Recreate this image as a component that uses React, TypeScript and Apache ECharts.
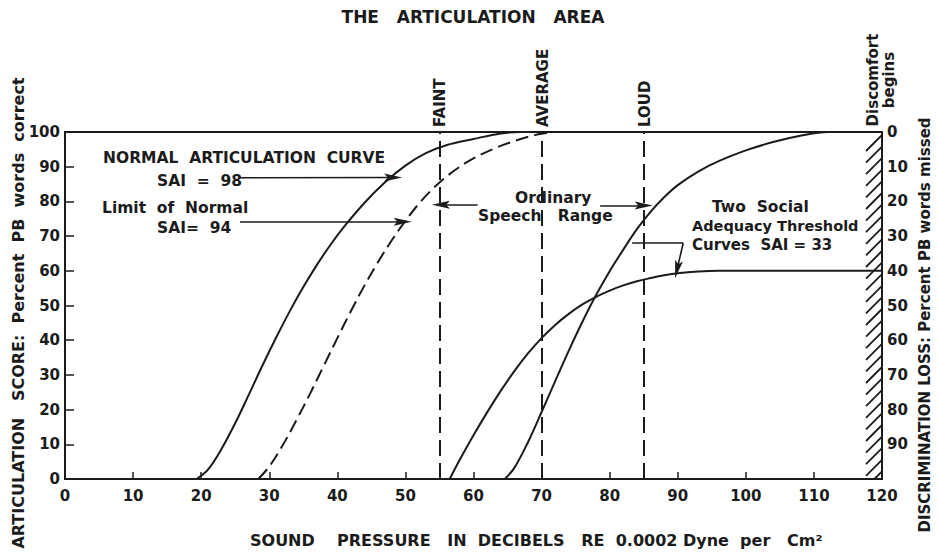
import React, { useEffect, useRef } from "react";
import * as echarts from "echarts";

// ---------- text ----------
const TITLE = "THE   ARTICULATION   AREA";
const X_NAME = "SOUND    PRESSURE   IN  DECIBELS   RE  0.0002 Dyne  per   Cm²";
const LEFT_NAME = "ARTICULATION   SCORE:  Percent  PB  words  correct";
const RIGHT_NAME = "DISCRIMINATION LOSS: Percent PB words missed";
const DISCOMFORT = "Discomfort\nbegins";

// ---------- data (sound pressure dB, articulation score %) ----------
const NORMAL_DB = [19.3, 21, 23, 25, 27, 29, 31, 33, 35, 37, 39, 41, 44, 47, 50, 53, 56, 60, 64, 67, 120];
const NORMAL_SCORE = [0, 2.7, 8.7, 16.1, 24.3, 32.7, 40.7, 48.3, 55.3, 61.7, 67.5, 72.7, 79.6, 85.5, 90.3, 93.9, 96.2, 98, 99.6, 100, 100];

const LIMIT_DB = [28.4, 30, 32, 34, 36, 38, 40, 42, 44, 46, 48, 50, 52, 54, 56, 58, 60, 63, 66, 69, 71.5];
const LIMIT_SCORE = [0, 3.6, 9.8, 17, 24.6, 32.6, 40.6, 48.4, 55.8, 62.6, 68.8, 74.4, 79.4, 83.6, 87.1, 90, 92.4, 95.2, 97.4, 99.1, 100];

const STEEP_DB = [64.6, 66, 68, 70, 72, 74, 76, 78, 80, 82, 84, 86, 88, 90, 93, 96, 100, 104, 108, 112, 120];
const STEEP_SCORE = [0, 3.2, 10.6, 19.3, 28.2, 37, 45.3, 53, 59.9, 66.1, 72, 77, 81.2, 84.7, 88.6, 91.6, 94.7, 97.1, 98.9, 100, 100];

const FLAT_DB = [56.5, 58, 60, 62, 64, 66, 68, 70, 72, 74, 76, 78, 80, 82, 84, 86, 88, 90, 93, 96, 120];
const FLAT_SCORE = [0, 5.6, 12.6, 19.2, 25.4, 31.1, 36.2, 40.6, 44.4, 47.6, 50.3, 52.5, 54.3, 55.8, 57, 57.9, 58.7, 59.3, 59.8, 60, 60];

const LEVEL_DB = [55, 70, 85];
const LEVEL_NAMES = ["FAINT", "AVERAGE", "LOUD"];

// annotation arrows in data coords: [fromDb, fromScore, toDb, toScore]
const ARROW_SAI98 = [25.7, 86.8, 48.2, 86.9];
const ARROW_SAI94 = [25.7, 74.1, 49.6, 74.1];
const ARROW_RANGE_LEFT = [60.6, 79.0, 55.2, 79.0];
const ARROW_RANGE_RIGHT = [78.6, 78.8, 85.0, 78.8];
const LEADER_H = [83.3, 68.0, 90.8, 68.0];
const LEADER_ARROW = [90.8, 68.0, 89.9, 60.4];

const FONT = '"DejaVu Sans", "Liberation Sans", sans-serif';
const INK = "#1b1b1b";

const zip = (a: number[], b: number[]) => a.map((v, i) => [v, b[i]]);

const ARROW_PATH = "path://M5,0L10,20L5,16L0,20Z";

function arrowItem(a: number[], withHead = true) {
  return [
    { coord: [a[0], a[1]], symbol: "none" },
    withHead
      ? { coord: [a[2], a[3]], symbol: ARROW_PATH, symbolSize: [8, 18] }
      : { coord: [a[2], a[3]], symbol: "none" },
  ];
}

const markBase = {
  silent: true,
  animation: false,
  label: { show: false },
  emphasis: { disabled: true },
  lineStyle: { color: INK, width: 1.6, type: "solid" },
};

const SMOOTH = 0.35;

export default function App() {
  const ref = useRef<HTMLDivElement>(null);

  useEffect(() => {
    if (!ref.current) return;
    const chart = echarts.init(ref.current, undefined, { renderer: "svg" });

    const textStyle = (size = 15) => ({
      font: `bold ${size}px ${FONT}`,
      fill: INK,
    });

    const curve = (name: string, db: number[], sc: number[], extra: any = {}) => ({
      name,
      type: "line",
      data: zip(db, sc),
      showSymbol: false,
      symbol: "none",
      smooth: SMOOTH,
      lineStyle: { color: INK, width: 2 },
      silent: true,
      ...extra,
    });

    const option: any = {
      animation: false,
      backgroundColor: "#ffffff",
      grid: {
        left: 65,
        right: 57,
        top: 132,
        bottom: 75,
        show: true,
        borderColor: INK,
        borderWidth: 2,
        backgroundColor: "transparent",
      },
      xAxis: {
        type: "value",
        min: 0,
        max: 120,
        interval: 10,
        axisLine: { lineStyle: { color: INK, width: 2 } },
        axisTick: { inside: true, length: 7, lineStyle: { color: INK, width: 1.5 } },
        axisLabel: { margin: 9, color: INK, fontFamily: FONT, fontWeight: "bold", fontSize: 15 },
        splitLine: { show: false },
      },
      yAxis: [
        {
          type: "value",
          min: 0,
          max: 100,
          interval: 10,
          axisLine: { show: true, lineStyle: { color: INK, width: 2 } },
          axisTick: { show: true, inside: true, length: 9, lineStyle: { color: INK, width: 1.5 } },
          axisLabel: { margin: 5, color: INK, fontFamily: FONT, fontWeight: "bold", fontSize: 15 },
          splitLine: { show: false },
        },
        {
          type: "value",
          position: "right",
          min: 0,
          max: 100,
          interval: 10,
          inverse: true,
          axisLine: { show: true, lineStyle: { color: INK, width: 2 } },
          axisTick: { show: false },
          axisLabel: {
            margin: 5,
            color: INK,
            fontFamily: FONT,
            fontWeight: "bold",
            fontSize: 15,
            formatter: (v: number) => (v === 100 ? "" : String(v)),
          },
          splitLine: { show: false },
        },
      ],
      series: [
        curve("Normal articulation curve", NORMAL_DB, NORMAL_SCORE, {
          markLine: { ...markBase, data: [arrowItem(ARROW_SAI98)] },
        }),
        curve("Limit of normal", LIMIT_DB, LIMIT_SCORE, {
          lineStyle: { color: INK, width: 2, type: [13, 6] },
          markLine: { ...markBase, data: [arrowItem(ARROW_SAI94)] },
        }),
        curve("Threshold curve A", STEEP_DB, STEEP_SCORE, {
          markLine: {
            ...markBase,
            symbol: "none",
            lineStyle: { color: INK, width: 2, type: [16, 7] },
            data: LEVEL_DB.map((d) => ({ xAxis: d })),
          },
        }),
        curve("Threshold curve B", FLAT_DB, FLAT_SCORE, {
          markLine: {
            ...markBase,
            data: [
              arrowItem(ARROW_RANGE_LEFT),
              arrowItem(ARROW_RANGE_RIGHT),
              arrowItem(LEADER_H, false),
              arrowItem(LEADER_ARROW),
            ],
          },
        }),
        {
          name: "hatch",
          type: "custom",
          silent: true,
          clip: false,
          data: [[120, 0]],
          renderItem: (_params: any, api: any) => {
            const top = api.coord([120, 100]);
            const bot = api.coord([120, 0]);
            const children: any[] = [];
            for (let y = top[1] + 3; y < bot[1] - 2; y += 11.6) {
              const y2 = Math.min(y + 16, bot[1]);
              const dx = y2 - y;
              children.push({
                type: "line",
                shape: { x1: top[0], y1: y, x2: top[0] - dx, y2 },
                style: { stroke: INK, lineWidth: 1.8 },
              });
            }
            return { type: "group", children };
          },
        },
      ],
    };

    chart.setOption(option);

    const levelTexts = LEVEL_DB.map((d, i) => {
      const p = chart.convertToPixel({ xAxisIndex: 0, yAxisIndex: 0 }, [d, 100]) as number[];
      return {
        type: "text",
        x: p[0] + 1,
        y: p[1] - 5,
        rotation: Math.PI / 2,
        style: { ...textStyle(15), text: LEVEL_NAMES[i], align: "left", verticalAlign: "middle", textAlign: "left", textVerticalAlign: "middle" },
      };
    });

    const t = (text: string, x: number, y: number, size = 15.5, align = "left") => ({
      type: "text",
      x,
      y,
      style: { ...textStyle(size), text, align, verticalAlign: "middle", textAlign: align, textVerticalAlign: "middle" },
    });

    const rot = (text: string, x: number, y: number, size: number, extra: any = {}) => ({
      type: "text",
      x,
      y,
      rotation: Math.PI / 2,
      style: { ...textStyle(size), text, align: "center", verticalAlign: "middle", textAlign: "center", textVerticalAlign: "middle", ...extra },
    });

    const graphic = [
      t(TITLE, 473, 17, 17, "center"),
      t("NORMAL  ARTICULATION  CURVE", 103, 158),
      t("SAI  =  98", 157, 181),
      t("Limit  of  Normal", 102, 208),
      t("SAI=  94", 157, 228),
      t("Ordinary", 515, 198),
      t("Speech   Range", 478, 216),
      t("Two  Social", 712, 207),
      t("Adequacy Threshold", 692, 226, 14.5),
      t("Curves  SAI = 33", 692, 245, 15),
      t(X_NAME, 250, 540, 16),
      rot(LEFT_NAME, 18, 313, 16),
      rot(RIGHT_NAME, 925, 325, 15),
      rot(DISCOMFORT, 881, 80, 15, { lineHeight: 16 }),
      ...levelTexts,
    ];

    chart.setOption({ graphic });

    return () => chart.dispose();
  }, []);

  return (
    <div
      ref={ref}
      style={{ position: "fixed", left: 0, top: 0, width: 939, height: 554, background: "#fff" }}
    />
  );
}
